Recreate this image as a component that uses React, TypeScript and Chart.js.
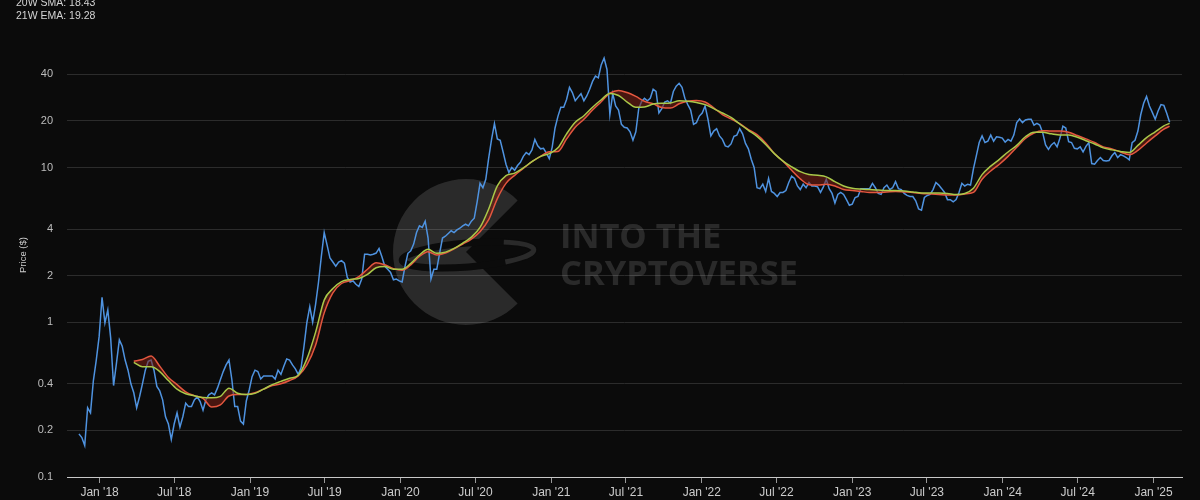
import React, { useEffect, useRef } from "react";
import { Chart, registerables } from "chart.js";

Chart.register(...registerables);

// ---------- data ----------
const priceStartDate = "2017-11-12";
const priceStepDays = 7;
const priceValues = [
  0.19, 0.18, 0.16, 0.28, 0.26, 0.42, 0.57, 0.81, 1.45, 0.99,
  1.2, 0.79, 0.39, 0.545, 0.77, 0.7, 0.57, 0.49, 0.4, 0.35,
  0.28, 0.33, 0.4, 0.49, 0.56, 0.57, 0.49, 0.385, 0.36, 0.315,
  0.245, 0.22, 0.175, 0.22, 0.26, 0.21, 0.245, 0.3, 0.285, 0.285,
  0.315, 0.33, 0.307, 0.27, 0.315, 0.34, 0.35, 0.34, 0.375, 0.425,
  0.48, 0.53, 0.57, 0.425, 0.285, 0.285, 0.23, 0.22, 0.31, 0.365,
  0.445, 0.49, 0.48, 0.43, 0.45, 0.45, 0.45, 0.45, 0.43, 0.49,
  0.46, 0.52, 0.58, 0.57, 0.53, 0.5, 0.46, 0.51, 0.7, 1.0,
  1.26, 1.0, 1.3, 1.8, 2.66, 3.8, 3.15, 2.6, 2.45, 2.3,
  2.45, 2.5, 2.41, 1.95, 1.82, 1.85, 1.76, 1.7, 1.9, 2.75,
  2.75, 2.72, 2.75, 2.8, 3.0, 2.65, 2.3, 2.2, 2.1, 1.88,
  1.9, 1.85, 1.82, 2.3, 2.79, 2.9, 3.2, 3.8, 4.2, 4.1,
  4.5, 3.5, 1.9, 2.2, 2.2, 2.8, 3.5, 3.6, 3.75, 3.9,
  3.8, 3.95, 4.05, 4.2, 4.3, 4.2, 4.5, 4.7, 6.0, 7.9,
  7.4, 8.4, 11.5, 15.2, 19.2, 15.3, 15.0, 12.6, 10.5, 9.3,
  10.0, 9.6, 10.3, 10.8, 11.8, 12.5, 12.1, 13.0, 15.2, 13.8,
  13.2, 13.3, 12.4, 11.4, 13.5, 18.0, 21.4, 24.5, 24.5, 27.5,
  33, 30.5, 27, 28.5, 30, 27, 29, 32, 36, 39,
  38, 46, 51, 43, 22, 30, 25, 23.5, 19, 18.2,
  18, 17, 15, 17, 24, 26.7, 28, 27, 28, 32,
  31, 22.5, 24, 26.5, 27, 26, 31, 33.5, 35, 33,
  28, 25.5, 23.5, 19, 19.5, 21.5, 22.5, 25, 20.5, 16,
  17.2, 17.8, 16, 15.2, 13.8, 13.6, 14.2, 15.9, 16.2, 17.8,
  16.5, 14.3, 13.2, 11.3, 10.0, 7.4, 7.3, 7.8, 7.0, 8.5,
  7.0, 6.8, 6.5, 6.9, 6.9, 7.1, 8.0, 8.8, 8.5, 7.6,
  7.2, 7.8, 7.4, 8.0, 7.6, 7.6, 7.5, 6.9, 7.5, 8.4,
  7.3, 6.8, 5.9, 6.7, 6.9, 6.7, 6.2, 5.7, 5.8, 6.4,
  6.5, 7.3, 7.3, 7.3, 7.3, 7.9, 7.4, 6.8, 6.7, 7.4,
  7.7, 7.2, 7.4, 8.1, 7.3, 7.2, 6.8, 6.6, 6.5, 6.5,
  6.1, 5.4, 5.3, 6.4, 6.6, 6.7, 7.2, 8.0, 7.7, 7.3,
  6.9, 6.2, 6.2, 6.0, 6.2, 6.9, 7.9, 7.6, 7.8, 7.7,
  9.8, 11.9, 14.5, 16.0, 14.5, 14.8, 16.2, 14.8, 15.8, 15.7,
  15.5, 14.6, 15.2, 14.8, 16.2, 19.5, 20.6, 19.5, 20.3, 20.5,
  20.5, 18.8, 19.3, 18.8, 16.8, 14, 13.1, 14, 14.5, 13.6,
  15.5, 18.5, 18, 14.7, 14.5, 13.3, 13.2, 13.6, 12.6, 13.7,
  14.5, 10.6, 10.5, 11.1, 11.6, 11.1, 11.0, 11.1, 11.9, 12.5,
  11.6, 12.1, 11.9, 11.6, 11.2, 14.5, 15.0, 17.2, 22, 26,
  28.8, 25, 22.7, 20.5, 23.2, 25.5, 25.2, 22.4, 19.6,
];

// week index (from priceStartDate) of each moving-average reading
const maWeeks = [
  19, 22, 25, 28, 31, 34, 37, 40, 43, 46, 49, 52, 55, 58, 61, 64, 67, 70, 73, 76,
  79, 82, 85, 88, 91, 94, 97, 100, 103, 106, 109, 112, 115, 118, 121, 124, 127, 130, 133, 136,
  139, 142, 145, 148, 151, 154, 157, 160, 163, 166, 169, 172, 175, 178, 181, 184, 187, 190, 193, 196,
  199, 202, 205, 208, 211, 214, 217, 220, 223, 226, 229, 232, 235, 238, 241, 244, 247, 250, 253, 256,
  259, 262, 265, 268, 271, 274, 277, 280, 283, 286, 289, 292, 295, 298, 301, 304, 307, 310, 313, 316,
  319, 322, 325, 328, 331, 334, 337, 340, 343, 346, 349, 352, 355, 358, 361, 364, 367, 370, 373, 376,
  378,
];
const smaValues = [
  0.56, 0.575, 0.605, 0.52, 0.44, 0.395, 0.355, 0.335, 0.322, 0.283, 0.292, 0.334, 0.341, 0.341, 0.35, 0.37, 0.39, 0.4, 0.42, 0.45,
  0.53, 0.71, 1.15, 1.55, 1.78, 1.86, 1.97, 2.2, 2.42, 2.35, 2.22, 2.17, 2.35, 2.66, 2.86, 2.72, 2.8, 2.98, 3.2, 3.45,
  3.85, 4.6, 6.3, 7.9, 8.9, 9.85, 10.9, 11.8, 12.65, 12.7, 15.3, 18.2, 20.5, 23.5, 26.6, 30.2, 31.5, 30.5, 28.8, 26.8,
  25.8, 24.4, 24.2, 25.8, 26.8, 27.1, 26.5, 24.3, 22.0, 20.6, 19.2, 17.6, 16.3, 14.4, 12.3, 11.0, 9.6, 8.45, 7.75, 7.7,
  7.8, 7.6, 7.2, 7.1, 7.0, 6.9, 6.9, 6.95, 7.0, 6.95, 6.9, 6.8, 6.75, 6.7, 6.65, 6.65, 6.75, 6.9, 8.4, 9.5,
  10.5, 11.8, 13.5, 15.4, 16.7, 17.3, 17.2, 17.2, 16.9, 16.1, 15.3, 14.5, 13.6, 13.2, 12.6, 12.1, 12.9, 14.4, 16.0, 17.7,
  18.43,
];
const emaValues = [
  0.55, 0.515, 0.515, 0.48, 0.42, 0.37, 0.345, 0.335, 0.326, 0.325, 0.332, 0.375, 0.348, 0.341, 0.347, 0.37, 0.395, 0.415, 0.435, 0.455,
  0.58, 0.86, 1.39, 1.65, 1.83, 1.89, 1.92, 2.04, 2.25, 2.29, 2.2, 2.2, 2.4, 2.72, 2.96, 2.79, 2.84, 3.0, 3.25, 3.55,
  4.1, 5.4, 7.6, 8.85, 9.2, 9.95, 10.9, 11.8, 12.3, 13.4, 16.5, 19.6, 21.6, 24.5, 27.4, 30.1, 29.2, 26.5, 24.5, 24.6,
  25.7, 26.0, 26.1, 27.0, 26.8, 26.3, 25.5, 24.0, 22.5, 21.1, 19.1, 17.4, 15.9, 14.1, 12.3, 11.0, 10.1, 9.4, 9.0, 8.9,
  8.7, 8.1, 7.6, 7.35, 7.25, 7.2, 7.15, 7.1, 7.1, 7.05, 6.95, 6.85, 6.85, 6.85, 6.8, 6.7, 6.8, 7.35, 9.0, 10.2,
  11.3, 12.6, 13.9, 15.8, 16.9, 16.9, 16.5, 16.2, 16.2, 15.7, 14.9, 14.2, 13.4, 13.0, 12.7, 12.5, 13.9, 15.6, 17.0, 18.6,
  19.28,
];

const xTickDates = [
  "2018-01-01", "2018-07-01", "2019-01-01", "2019-07-01", "2020-01-01",
  "2020-07-01", "2021-01-01", "2021-07-01", "2022-01-01", "2022-07-01",
  "2023-01-01", "2023-07-01", "2024-01-01", "2024-07-01", "2025-01-01",
];
const xTickLabels = [
  "Jan '18", "Jul '18", "Jan '19", "Jul '19", "Jan '20",
  "Jul '20", "Jan '21", "Jul '21", "Jan '22", "Jul '22",
  "Jan '23", "Jul '23", "Jan '24", "Jul '24", "Jan '25",
];
const xRangeDates = ["2017-10-14", "2025-03-11"];
const yTickValues = [0.1, 0.2, 0.4, 1, 2, 4, 10, 20, 40];
const yRange = [0.1, 74];
const seriesNames = ["Price", "20W SMA", "21W EMA"];
const legendLines = [`20W SMA: ${smaValues[smaValues.length - 1]}`, `21W EMA: ${emaValues[emaValues.length - 1]}`];
const axisTitle = "Price ($)";
const watermarkLines = ["INTO THE", "CRYPTOVERSE"];

// ---------- helpers ----------
const DAY_MS = 86400000;
const EPOCH = Date.parse("2018-01-01T00:00:00Z");
const dayOf = (s: string) => (Date.parse(s + "T00:00:00Z") - EPOCH) / DAY_MS;

const BG = "#0b0b0b";
const FONT = "'Liberation Sans', Arial, sans-serif";

const watermarkPlugin = {
  id: "watermark",
  beforeDatasetsDraw(chart: any) {
    const ctx = chart.ctx as CanvasRenderingContext2D;
    ctx.save();
    const gray = "rgba(255,255,255,0.13)";
    // logo disc with wedge opening
    const cx = 466, cy = 252, r = 73;
    ctx.fillStyle = gray;
    ctx.beginPath();
    ctx.moveTo(cx, cy);
    ctx.arc(cx, cy, r, (45 * Math.PI) / 180, (315 * Math.PI) / 180);
    ctx.closePath();
    ctx.fill();
    // orbit ring
    ctx.lineWidth = 7;
    ctx.strokeStyle = BG;
    ctx.beginPath();
    ctx.ellipse(cx + 2, cy + 3, 66, 12, -0.08, 0, Math.PI * 2);
    ctx.stroke();
    ctx.lineWidth = 5;
    ctx.strokeStyle = gray;
    ctx.beginPath();
    ctx.ellipse(cx + 2, cy + 3, 66, 12, -0.08, -Math.PI / 3.2, Math.PI / 3.2);
    ctx.stroke();
    // text
    ctx.fillStyle = gray;
    ctx.textBaseline = "middle";
    ctx.textAlign = "left";
    const base = 32;
    ctx.font = `bold ${base}px 'Open Sans', sans-serif`;
    const w = ctx.measureText(watermarkLines[1]).width;
    const size = (base * 238) / w;
    ctx.font = `bold ${size}px 'Open Sans', sans-serif`;
    ctx.fillText(watermarkLines[0], 560, 238);
    ctx.fillText(watermarkLines[1], 560, 275);
    ctx.restore();
  },
  afterDraw(chart: any) {
    const ctx = chart.ctx as CanvasRenderingContext2D;
    ctx.save();
    ctx.fillStyle = "#d4d4d4";
    ctx.font = `10.5px ${FONT}`;
    ctx.textBaseline = "middle";
    ctx.textAlign = "left";
    ctx.fillText(legendLines[0], 16, 3);
    ctx.fillText(legendLines[1], 16, 16);
    ctx.restore();
  },
};

export default function App() {
  const ref = useRef<HTMLCanvasElement | null>(null);

  useEffect(() => {
    if (!ref.current) return;
    const start = dayOf(priceStartDate);
    const priceData = priceValues.map((v, i) => ({ x: start + i * priceStepDays, y: v }));
    const smaData = maWeeks.map((w, k) => ({ x: start + w * priceStepDays, y: smaValues[k] }));
    const emaData = maWeeks.map((w, k) => ({ x: start + w * priceStepDays, y: emaValues[k] }));
    const fillColor = "rgba(125,32,22,0.55)";

    const chart = new Chart(ref.current, {
      type: "line",
      data: {
        datasets: [
          {
            label: seriesNames[0],
            data: priceData,
            borderColor: "#4f93e0",
            borderWidth: 1.5,
            pointRadius: 0,
            tension: 0,
            fill: false,
            order: 3,
          },
          {
            label: seriesNames[1],
            data: smaData,
            borderColor: "#e4573f",
            borderWidth: 1.5,
            pointRadius: 0,
            cubicInterpolationMode: "monotone",
            fill: { target: 2, above: fillColor, below: fillColor },
            order: 2,
          },
          {
            label: seriesNames[2],
            data: emaData,
            borderColor: "#a9c94a",
            borderWidth: 1.5,
            pointRadius: 0,
            cubicInterpolationMode: "monotone",
            fill: false,
            order: 1,
          },
        ],
      },
      options: {
        animation: false,
        responsive: false,
        devicePixelRatio: 1,
        events: [],
        layout: { padding: { top: 33, right: 18, left: 0, bottom: 0 } },
        plugins: {
          legend: { display: false },
          tooltip: { enabled: false },
        },
        scales: {
          x: {
            type: "linear",
            bounds: "data",
            min: dayOf(xRangeDates[0]),
            max: dayOf(xRangeDates[1]),
            afterBuildTicks: (scale: any) => {
              scale.ticks = xTickDates.map((d) => ({ value: dayOf(d) }));
            },
            afterFit: (scale: any) => {
              scale.height = 23;
            },
            ticks: {
              autoSkip: false,
              maxRotation: 0,
              minRotation: 0,
              color: "#cccccc",
              font: { family: FONT, size: 12 },
              padding: 2,
              callback: (_v: any, i: number) => xTickLabels[i],
            },
            grid: {
              drawOnChartArea: false,
              drawTicks: true,
              tickLength: 6,
              color: "#9a9a9a",
            },
            border: { display: true, color: "#c8c8c8", width: 1 },
          },
          y: {
            type: "logarithmic",
            bounds: "data",
            min: yRange[0],
            max: yRange[1],
            afterBuildTicks: (scale: any) => {
              scale.ticks = yTickValues.map((v) => ({ value: v }));
            },
            afterFit: (scale: any) => {
              scale.width = 67;
            },
            ticks: {
              color: "#bdbdbd",
              font: { family: FONT, size: 11 },
              padding: 14,
              callback: (v: any) => String(v),
            },
            grid: {
              drawTicks: false,
              lineWidth: 1,
              color: (c: any) => (c.tick && c.tick.value === yRange[0] ? "rgba(0,0,0,0)" : "#2c2c2c"),
            },
            border: { display: false },
            title: {
              display: true,
              text: axisTitle,
              color: "#cccccc",
              font: { family: FONT, size: 9.5 },
              padding: { top: 18, bottom: 0 },
            },
          },
        },
      },
      plugins: [watermarkPlugin],
    } as any);
    return () => chart.destroy();
  }, []);

  return (
    <div
      style={{
        position: "fixed",
        left: 0,
        top: 0,
        width: 1200,
        height: 500,
        background: BG,
        overflow: "hidden",
      }}
    >
      <canvas ref={ref} width={1200} height={500} style={{ display: "block", width: 1200, height: 500 }} />
    </div>
  );
}
